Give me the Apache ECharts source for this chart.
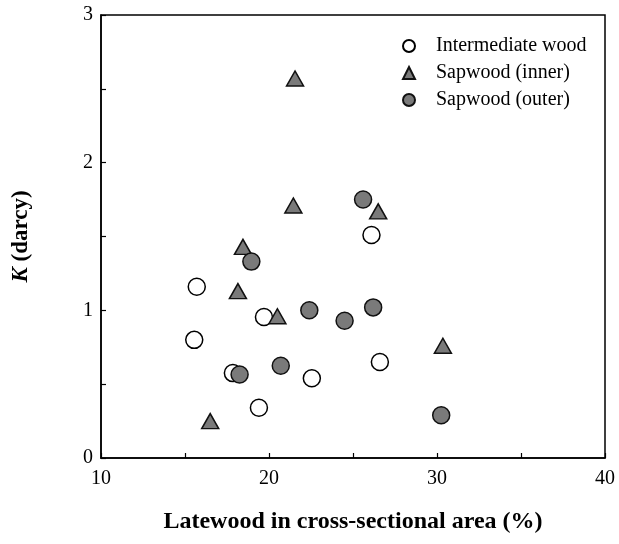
<!DOCTYPE html>
<html>
<head>
<meta charset="utf-8">
<script src="https://cdn.jsdelivr.net/npm/echarts@6/dist/echarts.min.js"></script>
<style>
  html, body { margin: 0; padding: 0; background: #fff; }
  #chart { width: 619px; height: 544px; }
</style>
</head>
<body>
<div id="chart"></div>
<script>
// values: [latewood %, K (darcy)]
const intermediateWood = [
  [15.7, 1.16], [19.7, 0.955], [15.55, 0.80], [17.85, 0.575],
  [22.55, 0.54], [19.4, 0.34], [26.1, 1.51], [26.6, 0.65]
];
const sapwoodInner = [
  [21.55, 2.57], [21.45, 1.71], [26.5, 1.67], [18.45, 1.43],
  [18.15, 1.13], [20.5, 0.96], [16.5, 0.25], [30.35, 0.76]
];
const sapwoodOuter = [
  [25.6, 1.75], [18.95, 1.33], [22.4, 1.0], [26.2, 1.02],
  [24.5, 0.93], [20.7, 0.625], [18.25, 0.565], [30.25, 0.29]
];
const seriesNames = ['Intermediate wood', 'Sapwood (inner)', 'Sapwood (outer)'];
const xTickLabels = [10, 20, 30, 40];
const yTickLabels = [0, 1, 2, 3];

const serif = '"Liberation Serif", "DejaVu Serif", serif';
const chart = echarts.init(document.getElementById('chart'));

const axisCommon = {
  axisLine: { lineStyle: { color: '#000', width: 1.5 } },
  axisTick: { inside: true, length: 5, lineStyle: { color: '#000', width: 1.2 } },
  splitLine: { show: false }
};
const label = (list, margin) => ({
  color: '#000', fontFamily: serif, fontSize: 20, margin,
  formatter: v => (list.includes(v) ? String(v) : '')
});

chart.setOption({
  animation: false,
  grid: { left: 101, right: 14, top: 15, bottom: 86, show: true, borderColor: '#000', borderWidth: 1.5 },
  legend: {
    orient: 'vertical',
    left: 397,
    top: 31,
    itemWidth: 12,
    itemHeight: 12,
    itemGap: 7,
    textStyle: { fontFamily: serif, fontSize: 20, color: '#000', padding: [0, 0, 0, 16] },
    data: seriesNames
  },
  xAxis: {
    type: 'value', min: 10, max: 40, interval: 5,
    name: 'Latewood in cross-sectional area (%)',
    nameLocation: 'middle', nameGap: 52,
    nameTextStyle: { fontFamily: serif, fontSize: 24, fontWeight: 'bold', color: '#000' },
    ...axisCommon,
    axisLabel: label(xTickLabels, 11)
  },
  yAxis: {
    type: 'value', min: 0, max: 3, interval: 0.5,
    name: '{i|K} (darcy)',
    nameLocation: 'middle', nameGap: 68,
    nameTextStyle: {
      fontFamily: serif, fontSize: 23, fontWeight: 'bold', color: '#000',
      rich: { i: { fontFamily: serif, fontSize: 23, fontWeight: 'bold', fontStyle: 'italic', color: '#000' } }
    },
    ...axisCommon,
    axisLabel: label(yTickLabels, 8)
  },
  series: [
    {
      name: seriesNames[0], type: 'scatter', data: intermediateWood,
      symbol: 'circle', symbolSize: 17,
      itemStyle: { color: '#fff', borderColor: '#000', borderWidth: 1.5, opacity: 1 }
    },
    {
      name: seriesNames[1], type: 'scatter', data: sapwoodInner,
      symbol: 'triangle', symbolSize: [17, 15],
      itemStyle: { color: '#7a7a7a', borderColor: '#111', borderWidth: 1.5, opacity: 1 }
    },
    {
      name: seriesNames[2], type: 'scatter', data: sapwoodOuter,
      symbol: 'circle', symbolSize: 17,
      itemStyle: { color: '#7a7a7a', borderColor: '#111', borderWidth: 1.5, opacity: 1 }
    }
  ]
});
</script>
</body>
</html>
